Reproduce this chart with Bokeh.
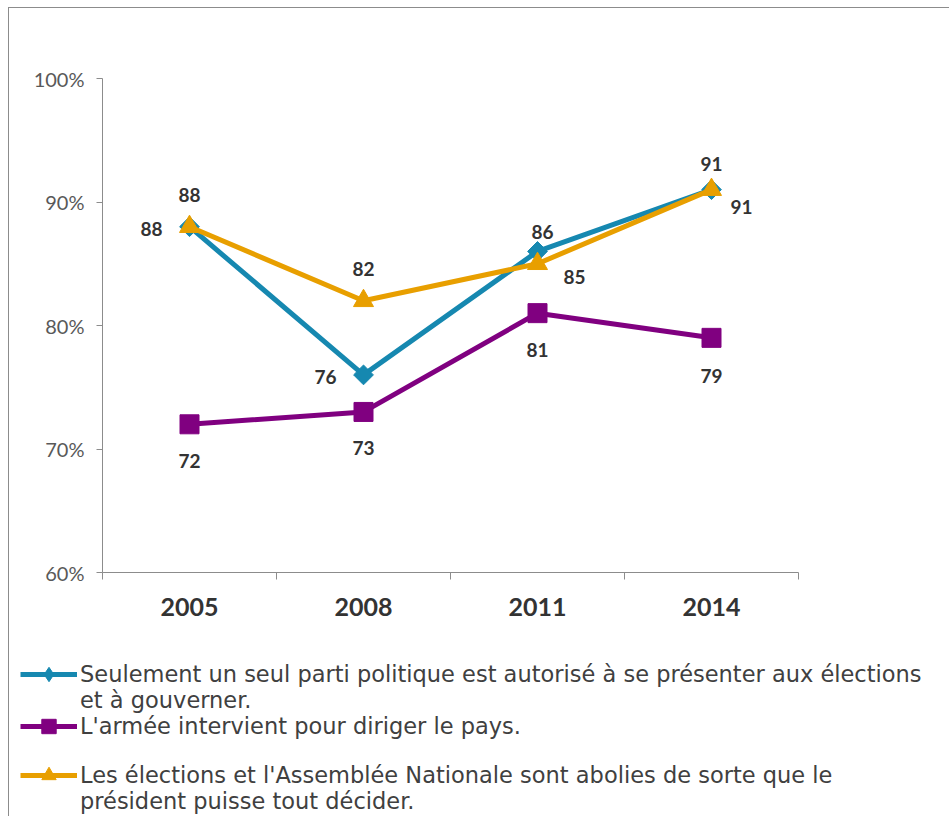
import math
from bokeh.plotting import figure
from bokeh.models import (FixedTicker, Legend, LegendItem, ColumnDataSource,
                          PrintfTickFormatter, Range1d)
from bokeh.embed import file_html
from bokeh.resources import INLINE

# ---------------- data ----------------
years = ["2005", "2008", "2011", "2014"]
parti_unique = [88, 76, 86, 91]
armee = [72, 73, 81, 79]
elections_abolies = [88, 82, 85, 91]
y_ticks = [60, 70, 80, 90, 100]
series_labels = [
    "Seulement un seul parti politique est autorisé à se présenter aux élections\net à gouverner.",
    "L'armée intervient pour diriger le pays.",
    "Les élections et l'Assemblée Nationale sont abolies de sorte que le\nprésident puisse tout décider.",
]

# ---------------- styles ----------------
BLUE = "#1688b0"
PURPLE = "#800080"
ORANGE = "#e89f00"
AXIS = "#8c8c8c"
FONT = "Lato"

x_centers = [i + 0.5 for i in range(len(years))]

W = 941
p = figure(width=W, height=620, output_backend="svg", toolbar_location=None,
           x_range=Range1d(0, len(years)), y_range=Range1d(60, 100),
           min_border_left=93, min_border_right=152, min_border_top=70,
           min_border_bottom=56)
p.styles = {"border-left": "1px solid #8c8c8c", "border-top": "1px solid #8c8c8c",
            "margin-left": "8px", "margin-top": "7px"}
p.outline_line_color = None
p.xgrid.visible = False
p.ygrid.visible = False

# y axis
p.yaxis.ticker = FixedTicker(ticks=y_ticks)
p.yaxis.formatter = PrintfTickFormatter(format="%d%%")
p.yaxis.axis_line_color = AXIS
p.yaxis.major_tick_line_color = AXIS
p.yaxis.major_tick_out = 6
p.yaxis.major_tick_in = 0
p.yaxis.minor_tick_line_color = None
p.yaxis.major_label_text_font = FONT
p.yaxis.major_label_text_font_size = "20px"
p.yaxis.major_label_text_color = "#595959"
p.yaxis.major_label_standoff = 12

# x axis
p.xaxis.ticker = FixedTicker(ticks=x_centers, minor_ticks=list(range(len(years) + 1)))
p.xaxis.major_label_overrides = {x: y for x, y in zip(x_centers, years)}
p.xaxis.axis_line_color = AXIS
p.xaxis.major_tick_line_color = None
p.xaxis.major_tick_out = 0
p.xaxis.major_tick_in = 0
p.xaxis.minor_tick_line_color = AXIS
p.xaxis.minor_tick_out = 7
p.xaxis.minor_tick_in = 0
p.xaxis.major_label_text_font = FONT
p.xaxis.major_label_text_font_style = "bold"
p.xaxis.major_label_text_font_size = "25px"
p.xaxis.major_label_text_color = "#333333"
p.xaxis.major_label_standoff = 18

# (values, colour, chart marker, size, angle, legend marker, label dx, label dy, legend bottom offset)
series = [
    (parti_unique, BLUE, "square", 14, math.pi / 4, "diamond",
     [-38, -38, 5, 0], [2, 2, -19, -26], 103),
    (armee, PURPLE, "square", 19, 0, "square",
     [0, 0, 0, 0], [37, 36, 37, 38], 51),
    (elections_abolies, ORANGE, "triangle", 20, 0, "triangle",
     [0, 0, 37, 30], [-32, -32, 13, 17], 2),
]

# legend figure (below the chart); its ranges keep the series out of view
lg = figure(width=W, height=189, output_backend="svg", toolbar_location=None,
            x_axis_type=None, y_axis_type=None,
            x_range=Range1d(0, 1), y_range=Range1d(0, 1),
            min_border_left=11, min_border_right=0, min_border_top=0,
            min_border_bottom=0)
lg.styles = {"border-left": "1px solid #8c8c8c", "margin-left": "8px"}
lg.outline_line_color = None
lg.xgrid.visible = False
lg.ygrid.visible = False

for (vals, color, marker, size, ang, lmarker, dx, dy, vy), lab in zip(series, series_labels):
    src = ColumnDataSource(dict(x=x_centers, y=vals))
    p.line("x", "y", source=src, line_color=color, line_width=5)
    p.scatter("x", "y", source=src, marker=marker, size=size, angle=ang,
              fill_color=color, line_color=color)
    lsrc = ColumnDataSource(dict(x=x_centers, y=vals, t=[str(v) for v in vals],
                                 dx=dx, dy=dy))
    p.text("x", "y", text="t", source=lsrc, x_offset="dx", y_offset="dy",
           text_align="center", text_baseline="middle",
           text_font_size="19px", text_font_style="bold",
           text_color="#333333", text_font={"value": FONT})
    # legend swatches
    lr = lg.line("x", "y", source=src, line_color=color, line_width=5)
    mr = lg.scatter("x", "y", source=src, marker=lmarker, size=size,
                    fill_color=color, line_color=color)
    # blank first line so that the swatch sits on the first text line
    lbl = "\n" + lab + ("" if "\n" in lab else "\n ")
    legend = Legend(items=[LegendItem(label=lbl, renderers=[lr, mr])],
                    location=(0, vy))
    legend.label_text_font = "DejaVu Sans"
    legend.label_text_font_size = "22.5px"
    legend.label_text_color = "#404040"
    legend.label_text_line_height = 1.1
    legend.glyph_width = 57
    legend.glyph_height = 36
    legend.label_standoff = 3
    legend.padding = 0
    legend.margin = 0
    legend.border_line_color = None
    legend.background_fill_alpha = 0
    lg.add_layout(legend, "center")

open("out.html", "w").write(file_html([p, lg], INLINE))
